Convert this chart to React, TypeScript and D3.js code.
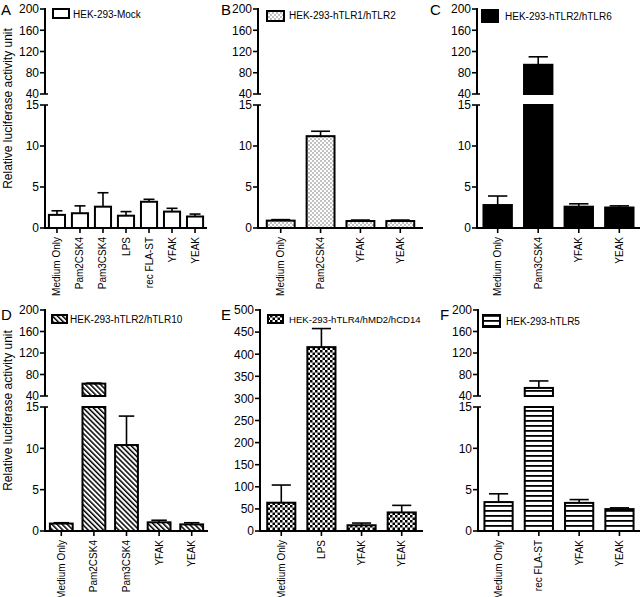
import React from 'react';
import * as d3 from 'd3';

// shared ticks for the broken y axes
const upperTicks = [40, 80, 120, 160, 200];
const lowerTicks = [0, 5, 10, 15];
const lpsTicks = [0, 50, 100, 150, 200, 250, 300, 350, 400, 450, 500];

// A - HEK-293-Mock
const mockCategories = ['Medium Only', 'Pam2CSK4', 'Pam3CSK4', 'LPS', 'rec FLA-ST', 'YFAK', 'YEAK'];
const mockMeans = [1.6, 1.8, 2.6, 1.5, 3.2, 2.0, 1.4];
const mockErrors = [0.5, 0.9, 1.7, 0.5, 0.3, 0.4, 0.3];

// B - hTLR1/hTLR2
const tlr12Categories = ['Medium Only', 'Pam2CSK4', 'YFAK', 'YEAK'];
const tlr12Means = [0.9, 11.2, 0.85, 0.85];
const tlr12Errors = [0.12, 0.6, 0.12, 0.12];

// C - hTLR2/hTLR6
const tlr26Categories = ['Medium Only', 'Pam3CSK4', 'YFAK', 'YEAK'];
const tlr26Means = [2.8, 95, 2.6, 2.5];
const tlr26Errors = [1.1, 15, 0.35, 0.2];

// D - hTLR2/hTLR10
const tlr210Categories = ['Medium Only', 'Pam2CSK4', 'Pam3CSK4', 'YFAK', 'YEAK'];
const tlr210Means = [0.9, 63, 10.4, 1.05, 0.8];
const tlr210Errors = [0.1, 1, 3.5, 0.25, 0.2];

// E - hTLR4/hMD2/hCD14
const tlr4Categories = ['Medium Only', 'LPS', 'YFAK', 'YEAK'];
const tlr4Means = [64, 416, 13, 42];
const tlr4Errors = [40, 42, 5, 16];

// F - hTLR5
const tlr5Categories = ['Medium Only', 'rec FLA-ST', 'YFAK', 'YEAK'];
const tlr5Means = [3.5, 55, 3.4, 2.65];
const tlr5Errors = [1.0, 13, 0.4, 0.15];

const FONT = 'Liberation Sans, Arial, Helvetica, sans-serif';

const TOP = { baseY: 228, lowerTop: 105, upperBottom: 94, upperTop: 9, letterY: 15 };
const BOTTOM = { baseY: 531, lowerTop: 407, upperBottom: 396, upperTop: 310, letterY: 320 };

const panels = [
  {
    letter: 'A', name: 'HEK-293-Mock', fill: '#fff', categories: mockCategories, means: mockMeans, errors: mockErrors,
    row: TOP, axisX: 45, axisEnd: 207, padOuter: 0.17, letterX: 1, broken: true,
    swatch: { x: 53, y: 9, w: 16, h: 9 }, legendX: 73, legendY: 18, legendSize: 10, title: true,
  },
  {
    letter: 'B', name: 'HEK-293-hTLR1/hTLR2', fill: 'url(#dots)', categories: tlr12Categories, means: tlr12Means, errors: tlr12Errors,
    row: TOP, axisX: 258, axisEnd: 423, padOuter: 0.22, letterX: 221, broken: true,
    swatch: { x: 267, y: 11, w: 17, h: 10 }, legendX: 289, legendY: 19, legendSize: 10, title: false,
  },
  {
    letter: 'C', name: 'HEK-293-hTLR2/hTLR6', fill: '#000', categories: tlr26Categories, means: tlr26Means, errors: tlr26Errors,
    row: TOP, axisX: 477, axisEnd: 640, padOuter: 0.16, letterX: 430, broken: true,
    swatch: { x: 482, y: 10, w: 16, h: 12 }, legendX: 505, legendY: 20, legendSize: 10, title: false,
  },
  {
    letter: 'D', name: 'HEK-293-hTLR2/hTLR10', fill: 'url(#diag)', categories: tlr210Categories, means: tlr210Means, errors: tlr210Errors,
    row: BOTTOM, axisX: 45, axisEnd: 208, padOuter: 0.15, letterX: 1, broken: true,
    swatch: { x: 52, y: 315, w: 15, h: 8 }, legendX: 70, legendY: 323, legendSize: 10, title: true,
  },
  {
    letter: 'E', name: 'HEK-293-hTLR4/hMD2/hCD14', fill: 'url(#checker)', categories: tlr4Categories, means: tlr4Means, errors: tlr4Errors,
    row: BOTTOM, axisX: 260, axisEnd: 423, padOuter: 0.18, letterX: 221, broken: false,
    swatch: { x: 268, y: 315, w: 15, h: 8 }, legendX: 289, legendY: 323, legendSize: 9.6, title: false,
  },
  {
    letter: 'F', name: 'HEK-293-hTLR5', fill: 'url(#hstripe)', categories: tlr5Categories, means: tlr5Means, errors: tlr5Errors,
    row: BOTTOM, axisX: 478, axisEnd: 640, padOuter: 0.16, letterX: 440, broken: true,
    swatch: { x: 483, y: 315, w: 17, h: 12 }, legendX: 506, legendY: 325, legendSize: 10, title: false,
  },
];

function Panel({ p }: { p: any }) {
  const { row } = p;
  const x = d3.scaleBand<string>()
    .domain(p.categories)
    .range([p.axisX, p.axisEnd])
    .paddingInner(0.3)
    .paddingOuter(p.padOuter);
  const bw = x.bandwidth();
  const lower = d3.scaleLinear()
    .domain([0, p.broken ? 15 : 500])
    .range([row.baseY, p.broken ? row.lowerTop : row.upperTop]);
  const upper = d3.scaleLinear().domain([40, 200]).range([row.upperBottom, row.upperTop]);

  const bars: any[] = [];
  p.means.forEach((v: number, i: number) => {
    const c = p.categories[i];
    const x0 = x(c)!;
    const cx = x0 + bw / 2;
    const top = v + p.errors[i];
    const cap = bw * 0.34;
    if (!p.broken || v <= 15) {
      bars.push(
        <g key={c}>
          <line x1={cx} x2={cx} y1={lower(v)} y2={lower(top)} stroke="#000" strokeWidth={1.6} />
          <line x1={cx - cap} x2={cx + cap} y1={lower(top)} y2={lower(top)} stroke="#000" strokeWidth={1.6} />
          <rect x={x0} y={lower(v)} width={bw} height={row.baseY - lower(v)} fill={p.fill} stroke="#000" strokeWidth={2} />
        </g>
      );
    } else {
      bars.push(
        <g key={c}>
          <line x1={cx} x2={cx} y1={upper(v)} y2={upper(top)} stroke="#000" strokeWidth={1.6} />
          <line x1={cx - cap} x2={cx + cap} y1={upper(top)} y2={upper(top)} stroke="#000" strokeWidth={1.6} />
          <rect x={x0} y={upper(v)} width={bw} height={upper(40) - upper(v)} fill={p.fill} stroke="#000" strokeWidth={2} />
          <rect x={x0} y={lower(15)} width={bw} height={row.baseY - lower(15)} fill={p.fill} stroke="#000" strokeWidth={2} />
        </g>
      );
    }
  });

  const tickLabel = (y: number, t: number) => (
    <g key={`t${t}-${y}`}>
      <line x1={p.axisX - 5} x2={p.axisX} y1={y} y2={y} stroke="#000" strokeWidth={1.6} />
      <text x={p.axisX - 6} y={y} dy="0.36em" textAnchor="end" fontSize={12}>{t}</text>
    </g>
  );

  return (
    <g>
      <text x={p.letterX} y={row.letterY} fontSize={15}>{p.letter}</text>
      {p.title && (
        <text transform={`translate(12, ${(row.upperTop + row.baseY) / 2 - 10}) rotate(-90)`} textAnchor="middle" fontSize={12}>
          Relative luciferase activity unit
        </text>
      )}
      {p.broken ? (
        <g>
          <line x1={p.axisX} x2={p.axisX} y1={upper(200) - 1} y2={upper(40)} stroke="#000" strokeWidth={2} />
          <line x1={p.axisX} x2={p.axisX} y1={lower(15)} y2={row.baseY} stroke="#000" strokeWidth={2} />
          <line x1={p.axisX} x2={p.axisX + 3} y1={upper(40)} y2={upper(40)} stroke="#000" strokeWidth={1.6} />
          <line x1={p.axisX} x2={p.axisX + 3} y1={lower(15)} y2={lower(15)} stroke="#000" strokeWidth={1.6} />
          {upperTicks.map(t => tickLabel(upper(t), t))}
          {lowerTicks.map(t => tickLabel(lower(t), t))}
        </g>
      ) : (
        <g>
          <line x1={p.axisX} x2={p.axisX} y1={lower(500) - 1} y2={row.baseY} stroke="#000" strokeWidth={2} />
          {lpsTicks.map(t => tickLabel(lower(t), t))}
        </g>
      )}
      {bars}
      <line x1={p.axisX - 1} x2={p.axisEnd} y1={row.baseY} y2={row.baseY} stroke="#000" strokeWidth={2} />
      {p.categories.map((c: string) => {
        const cx = x(c)! + bw / 2;
        return (
          <g key={`x-${c}`}>
            <line x1={cx} x2={cx} y1={row.baseY} y2={row.baseY + 5} stroke="#000" strokeWidth={1.6} />
            <text transform={`translate(${cx}, ${row.baseY + 9}) rotate(-90)`} dy="0.35em" textAnchor="end" fontSize={10}>{c}</text>
          </g>
        );
      })}
      <rect x={p.swatch.x} y={p.swatch.y} width={p.swatch.w} height={p.swatch.h} fill={p.fill} stroke="#000" strokeWidth={2} />
      <text x={p.legendX} y={p.legendY} fontSize={p.legendSize}>{p.name}</text>
    </g>
  );
}

export default function App() {
  return (
    <div style={{ position: 'absolute', left: 0, top: 0 }}>
      <svg width={640} height={597} style={{ display: 'block', background: '#fff', fontFamily: FONT }}>
        <defs>
          <pattern id="dots" width={4} height={4} patternUnits="userSpaceOnUse">
            <rect width={4} height={4} fill="#fff" />
            <circle cx={1} cy={1} r={0.7} fill="#555" />
            <circle cx={3} cy={3} r={0.7} fill="#555" />
          </pattern>
          <pattern id="diag" width={3.6} height={3.6} patternUnits="userSpaceOnUse" patternTransform="rotate(-45)">
            <rect width={3.6} height={3.6} fill="#fff" />
            <rect width={1.5} height={3.6} fill="#000" />
          </pattern>
          <pattern id="checker" width={5} height={5} patternUnits="userSpaceOnUse">
            <rect width={5} height={5} fill="#fff" />
            <rect width={2.5} height={2.5} fill="#000" />
            <rect x={2.5} y={2.5} width={2.5} height={2.5} fill="#000" />
          </pattern>
          <pattern id="hstripe" width={5} height={5} patternUnits="userSpaceOnUse">
            <rect width={5} height={5} fill="#fff" />
            <rect y={0} width={5} height={1.8} fill="#000" />
          </pattern>
        </defs>
        {panels.map(p => <Panel key={p.letter} p={p} />)}
      </svg>
    </div>
  );
}
